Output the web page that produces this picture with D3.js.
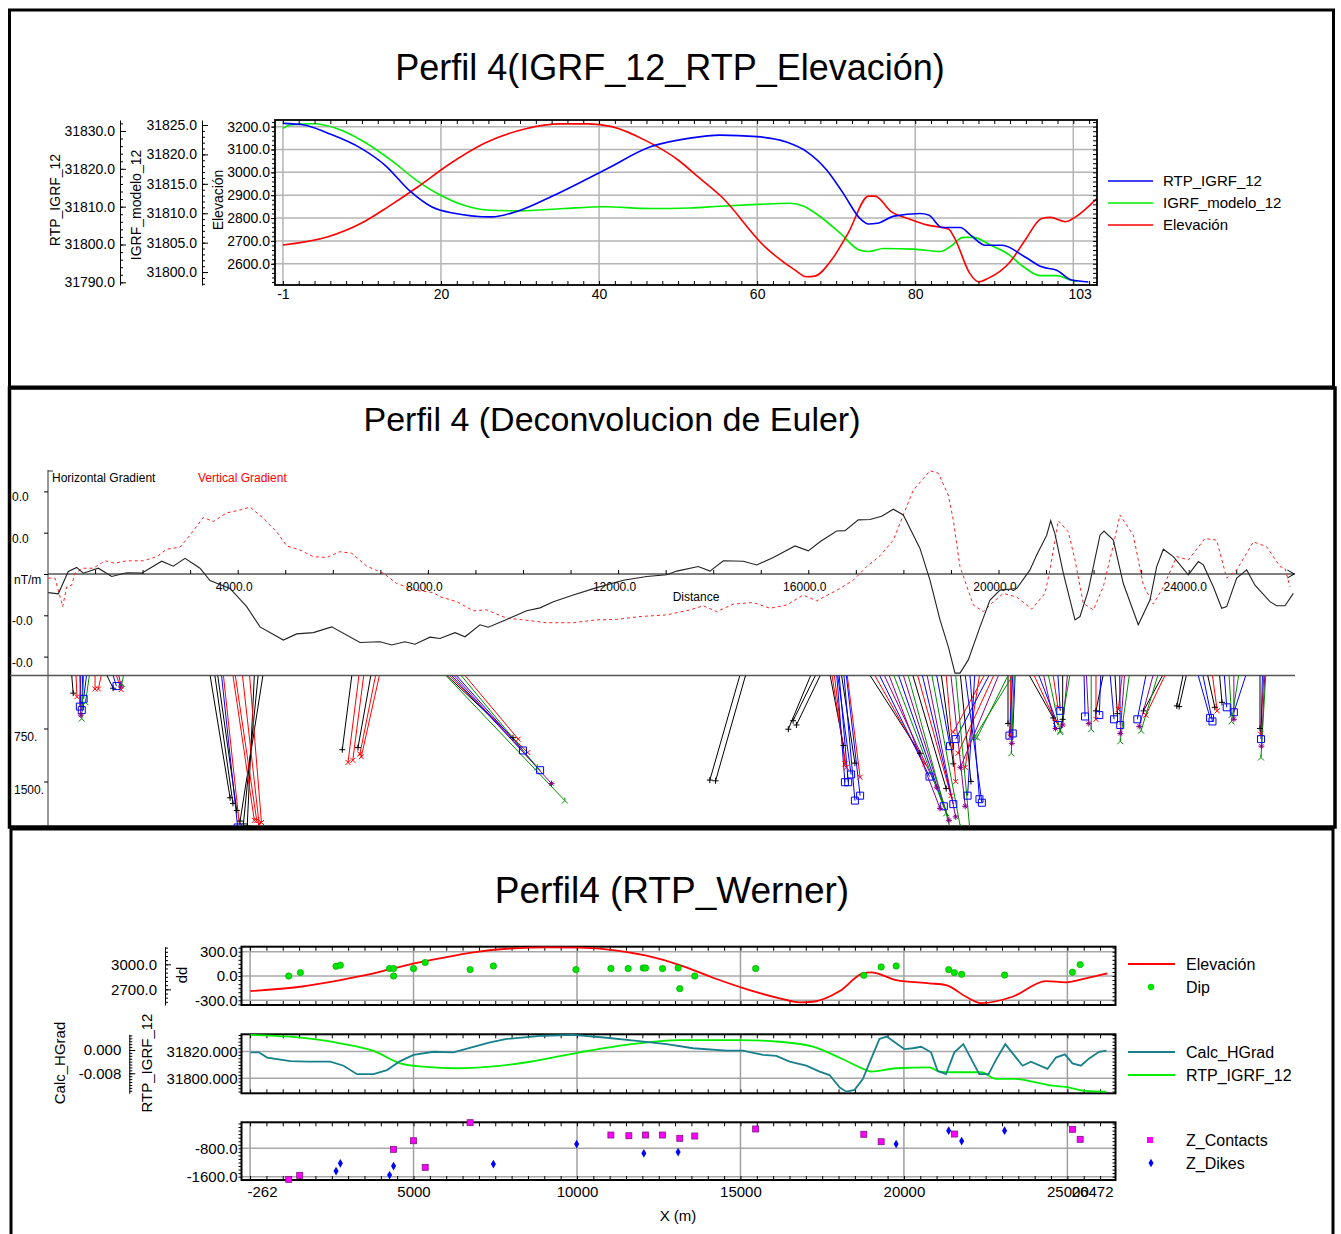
<!DOCTYPE html>
<html>
<head>
<meta charset="utf-8">
<script src="https://cdn.jsdelivr.net/npm/d3@7"></script>
<style>
  body { margin: 0; background: #fff; }
  svg { display: block; }
  text { font-family: "Liberation Sans", Arial, sans-serif; }
</style>
</head>
<body>
<svg id="chart" width="1341" height="1234"></svg>
<script>
const FONT = '"Liberation Sans", Arial, sans-serif';

// ---------- Panel 1: Perfil 4 (IGRF_12_RTP_Elevación), x = fiducial
const p1TickPos = [0, 20, 40, 60, 80, 100.8];
const p1TickLabels = ["-1", "20", "40", "60", "80", "103"];
const rtpFid = [0, 2.7, 5.7, 9.9, 12.9, 16.2, 18.8, 21.3, 26.4, 29.7, 34.4, 40.9, 46.5, 51.5, 55.3, 60, 63.8, 66.3, 68.8, 70.9, 73, 74.1, 75.2, 77.3, 80.6, 81.7, 83.4, 85.7, 87, 88.9, 91, 93.9, 96, 97.9, 99.8, 101.9];
const rtpVal = [31832.0, 31831.6, 31829.4, 31825.4, 31821.0, 31813.9, 31810.0, 31808.4, 31807.3, 31808.8, 31813.1, 31819.9, 31825.8, 31828.1, 31828.9, 31828.5, 31827.0, 31824.5, 31819.7, 31813.5, 31806.9, 31805.4, 31805.6, 31807.5, 31808.2, 31807.8, 31804.5, 31804.5, 31802.5, 31799.8, 31799.8, 31796.7, 31794.1, 31793.2, 31790.6, 31790.1];
const igrfFid = [0, 0.9, 3.9, 6.8, 10.2, 13.6, 16.9, 19.9, 22.8, 26.2, 30, 35.5, 40.6, 46.5, 51.5, 55.3, 60, 64.2, 65.9, 68, 70.5, 73, 74.1, 76, 79.8, 83.2, 84.4, 86.1, 87.4, 89.5, 91.6, 93.7, 95.8, 97.9, 99.8, 100.5];
const igrfVal = [31824.4, 31825.0, 31825.2, 31824.4, 31822.2, 31819.1, 31815.6, 31813.1, 31811.4, 31810.5, 31810.4, 31810.8, 31811.1, 31810.8, 31810.9, 31811.2, 31811.5, 31811.7, 31811.2, 31809.4, 31806.6, 31803.7, 31803.5, 31804.0, 31803.9, 31803.5, 31804.3, 31805.9, 31805.9, 31804.6, 31803.2, 31800.9, 31799.4, 31799.4, 31798.6, 31798.4];
const elevFid = [0, 5.7, 9.9, 13.3, 17.1, 20.9, 25.5, 30.6, 35.2, 38.6, 41.6, 45.8, 50, 52.5, 55.5, 61, 64.8, 66.2, 67.3, 69.4, 71.5, 74.1, 74.9, 77, 79.1, 81.6, 84.2, 85, 86.9, 88, 89.2, 92, 93.9, 96, 97.1, 99, 100.2, 103];
const elevVal = [2682, 2718, 2777, 2849, 2937, 3032, 3127, 3190, 3212, 3212, 3200, 3141, 3054, 2981, 2893, 2674, 2572, 2543, 2546, 2616, 2733, 2896, 2896, 2827, 2798, 2769, 2752, 2711, 2558, 2521, 2536, 2608, 2703, 2798, 2803, 2784, 2803, 2886];
const p1Legend = ["RTP_IGRF_12", "IGRF_modelo_12", "Elevación"];
const p1Colors = ["#0000ff", "#00ee00", "#ff0000"];

// ---------- Panel 2: Euler deconvolution (gradients in 1e-3 nT/m)
const hgDist = [17, 227, 437, 614, 753, 1068, 1350, 1665, 1981, 2402, 2646, 2892, 3207, 3417, 3838, 4189, 4469, 4959, 5241, 5590, 5977, 6572, 6993, 7239, 7518, 7729, 8044, 8254, 8570, 8780, 9096, 9270, 9657, 10078, 10358, 10638, 11058, 11550, 12110, 12602, 13022, 13233, 13687, 13933, 14213, 14634, 14915, 15264, 15720, 16000, 16246, 16597, 16772, 17052, 17298, 17544, 17788, 17998, 18349, 18559, 18770, 18944, 19085, 19190, 19365, 19611, 19821, 20032, 20383, 20662, 20803, 21014, 21098, 21188, 21363, 21609, 21714, 21889, 22135, 22219, 22415, 22625, 22940, 23186, 23327, 23467, 23677, 23992, 24203, 24308, 24518, 24694, 24799, 25010, 25220, 25394, 25710, 25850, 26025, 26200];
const hgVal = [-4.5, -4.8, 0.6, 1.6, 0.2, 1.4, -0.6, 0.3, 0.2, 3.1, 1.9, 3.8, 1.4, -1.6, -3.5, -7.9, -12.8, -16.0, -14.5, -14.2, -12.8, -16.6, -16.4, -17.2, -16.4, -17.0, -15.3, -15.6, -14.2, -15.2, -12.3, -12.9, -11.0, -8.9, -8.2, -6.7, -5.1, -3.3, -1.5, -0.6, -0.2, 0.7, 1.8, 0.7, 3.2, 3.1, 2.2, 4.0, 6.8, 5.6, 7.8, 10.4, 10.5, 13.1, 13.2, 14.0, 15.7, 14.3, 6.2, -1.5, -11.1, -17.6, -24.0, -24.0, -20.8, -12.8, -6.3, -3.9, -3.5, 1.0, 4.6, 9.4, 12.9, 9.7, 0.2, -11.1, -10.3, -3.9, 9.4, 10.4, 8.2, -2.3, -12.3, -6.3, 1.8, 6.0, 4.2, -0.2, 3.0, 2.2, -3.1, -8.3, -7.9, -1.0, 1.0, -2.7, -6.7, -7.7, -7.7, -4.7];
const vgDist = [17, 158, 320, 404, 509, 578, 753, 963, 1209, 1420, 1665, 2015, 2297, 2507, 2787, 2997, 3277, 3487, 3769, 4049, 4259, 4538, 4820, 5031, 5310, 5590, 5872, 6151, 6397, 6713, 7062, 7344, 7764, 8114, 8254, 8606, 8955, 9237, 9657, 10006, 10498, 11058, 11550, 11971, 12461, 13022, 13512, 13792, 14074, 14423, 14844, 15195, 15546, 15895, 16176, 16667, 16946, 17228, 17508, 17788, 17998, 18208, 18559, 18734, 18944, 19049, 19190, 19470, 19680, 19856, 20101, 20383, 20698, 20977, 21083, 21257, 21468, 21609, 21783, 21994, 22204, 22415, 22555, 22835, 23046, 23256, 23467, 23747, 23992, 24342, 24588, 24799, 25010, 25360, 25640, 25920, 26025, 26130];
const vgVal = [-1.0, -1.0, -7.9, -3.1, -2.7, 0.2, 1.4, 1.4, 3.2, 2.6, 3.2, 3.2, 4.2, 6.0, 6.5, 9.4, 13.7, 12.7, 14.8, 15.5, 16.2, 13.5, 10.2, 6.8, 5.8, 4.2, 4.0, 5.4, 5.0, 1.9, 0.2, -2.3, -4.0, -4.5, -5.5, -6.7, -8.9, -8.7, -10.7, -11.1, -11.8, -11.8, -11.1, -11.0, -10.3, -9.9, -8.7, -7.7, -9.1, -7.3, -6.9, -8.3, -7.5, -5.1, -6.5, -3.5, -1.5, 1.8, 4.4, 8.2, 14.3, 20.3, 25.0, 24.4, 19.1, 13.1, 1.8, -7.5, -9.1, -7.1, -4.7, -5.6, -8.5, -4.7, 1.0, 12.9, 10.2, 3.4, -7.1, -8.7, -3.1, 7.0, 14.3, 9.4, -2.7, -7.3, -3.1, 4.2, 3.4, 8.6, 8.2, -1.0, 1.0, 7.8, 6.6, 1.8, 1.4, -3.1];
const gradTicks = [20, 10, 0, -10, -20];
const depthTicks = [750, 1500];
const distLabels = [4000, 8000, 12000, 16000, 20000, 24000];
// Euler solutions: [x at surface, x at solution, depth, type]
const eulerSol = [
  [510, 540, 250, 0], [600, 620, 300, 1], [700, 680, 440, 2], [740, 720, 490, 2], [760, 720, 610, 3],
  [680, 700, 560, 4], [1000, 1000, 190, 1], [1130, 1070, 190, 1], [880, 800, 380, 3], [820, 760, 330, 2],
  [1250, 1380, 180, 0], [1380, 1450, 150, 2], [1500, 1550, 150, 4], [1600, 1560, 120, 3], [1450, 1550, 200, 1],
  [3420, 3840, 1730, 0], [3520, 3900, 1810, 0], [3580, 3980, 1910, 0], [3660, 4000, 2150, 2], [3700, 4050, 2200, 1],
  [3900, 4350, 2050, 1], [3950, 4400, 2050, 1], [4100, 4450, 2100, 1], [4250, 4500, 2080, 1],
  [4530, 4050, 2060, 0], [4430, 4120, 2100, 0], [4350, 4200, 2130, 0],
  [6400, 6200, 1050, 0], [6550, 6320, 1230, 1], [6650, 6420, 1200, 1], [6800, 6530, 1020, 0], [6900, 6570, 1110, 1], [6980, 6600, 1150, 1],
  [8400, 9790, 880, 0], [8450, 10100, 1090, 1], [8500, 10360, 1340, 2], [8550, 10600, 1530, 4], [8380, 10880, 1770, 3],
  [8700, 10300, 1300, 3], [8600, 10000, 1060, 2], [8780, 9900, 900, 1],
  [14560, 13930, 1480, 0], [14680, 14050, 1490, 0],
  [16050, 15580, 760, 0], [16150, 15680, 640, 0], [16250, 15750, 700, 0],
  [16460, 16740, 990, 0], [16550, 16770, 1250, 1], [16600, 16770, 1510, 2], [16650, 16840, 1510, 2], [16700, 16980, 1240, 0],
  [16750, 16980, 1770, 2], [16800, 17090, 1700, 2], [16820, 17090, 1440, 1], [16500, 16800, 1300, 1], [16620, 16900, 1400, 2],
  [17300, 18350, 1100, 0], [17400, 18450, 1250, 1], [17500, 18550, 1430, 2], [17600, 18700, 1580, 4], [17700, 18770, 1880, 4],
  [17800, 18900, 1950, 3], [17900, 18850, 1850, 2], [18000, 18960, 2050, 4], [18100, 19000, 2200, 3], [18200, 18900, 1600, 0],
  [18300, 19000, 1700, 1], [18400, 19050, 1820, 2], [18500, 19100, 2000, 4], [18600, 19200, 2150, 3], [18700, 18980, 1000, 2],
  [18800, 19050, 1250, 0], [18900, 19100, 1500, 1], [19000, 19300, 1850, 4], [19100, 19400, 2200, 3],
  [19900, 19150, 1100, 1], [19800, 19100, 900, 2], [19700, 19050, 800, 1], [20000, 19200, 1300, 4], [20300, 19500, 870, 3],
  [20200, 19550, 880, 3], [19600, 19300, 1300, 1], [19500, 19350, 1700, 2], [19400, 19600, 1750, 2], [19300, 19650, 1800, 2],
  [19200, 19420, 1500, 0],
  [20200, 20200, 680, 0], [20250, 20250, 870, 1], [20300, 20230, 850, 2], [20350, 20300, 820, 2], [20280, 20280, 960, 4], [20330, 20270, 1100, 3],
  [20650, 21150, 600, 0], [20750, 21200, 650, 1], [20850, 21250, 700, 2], [20950, 21200, 750, 4], [21050, 21300, 800, 3],
  [21150, 21250, 450, 1], [21250, 21300, 500, 2], [21350, 21350, 620, 0], [21450, 21350, 700, 4], [21500, 21300, 780, 3],
  [21800, 21820, 580, 2], [21850, 21900, 680, 4], [21950, 21950, 760, 3], [22050, 22050, 620, 1], [22150, 22120, 560, 2], [22200, 22050, 500, 0],
  [22350, 22430, 620, 2], [22450, 22500, 540, 0], [22550, 22560, 700, 2], [22650, 22560, 820, 4], [22750, 22560, 930, 3], [22600, 22520, 480, 1],
  [23100, 22920, 620, 2], [23250, 22960, 720, 4], [23350, 23000, 780, 3], [23450, 23050, 500, 0], [23500, 23100, 560, 1],
  [23880, 23750, 430, 0], [23950, 23800, 440, 0],
  [24200, 24450, 600, 2], [24300, 24500, 650, 2], [24400, 24550, 450, 0], [24500, 24600, 500, 1], [24650, 24700, 380, 0],
  [24750, 24800, 450, 2], [24850, 24900, 560, 3], [24950, 24950, 620, 4], [25050, 24900, 650, 3], [25200, 24950, 520, 2],
  [25500, 25500, 750, 0], [25550, 25520, 900, 2], [25600, 25530, 1000, 4], [25620, 25520, 1160, 3], [25580, 25510, 830, 1]
];
const eulerColors = ["#000000", "#ff0000", "#0000ff", "#008c00", "#8b008b"];
const eulerShapes = [
  "M-3,0H3M0,-3V3",
  "M-2.5,-2.5L2.5,2.5M-2.5,2.5L2.5,-2.5",
  "M-3.5,-3.5H3.5V3.5H-3.5Z",
  "M0,-3V0L-3,3M0,0L3,3",
  "M-3,0H3M0,-3V3M-2,-2L2,2M-2,2L2,-2"
];

// ---------- Panel 3: Perfil4 (RTP_Werner), x = X (m)
const wElevX = [12, 1540, 2761, 3778, 4798, 5815, 6832, 8053, 9073, 10090, 11107, 12127, 13144, 14161, 15181, 16198, 16809, 17215, 18038, 18742, 18999, 19762, 20780, 21289, 21900, 22358, 23323, 24343, 24954, 25564, 26224];
const wElevY = [2679, 2731, 2811, 2891, 2991, 3072, 3144, 3192, 3204, 3199, 3171, 3103, 2991, 2839, 2703, 2592, 2544, 2551, 2679, 2891, 2904, 2811, 2772, 2751, 2611, 2535, 2611, 2799, 2784, 2832, 2891];
const dipX = [1182, 1540, 2630, 2761, 4267, 4389, 4389, 5000, 5357, 6731, 7443, 9968, 11037, 11566, 12024, 12097, 12616, 13093, 13144, 13602, 15465, 18773, 19304, 19762, 21369, 21543, 21766, 23079, 25156, 25391];
const dipY = [0, 42, 120, 133, 92, 92, 0, 92, 166, 79, 124, 79, 92, 92, 99, 99, 92, 99, -156, 0, 92, 9, 112, 124, 79, 42, 21, 12, 46, 141];
const hgradX = [12, 266, 522, 1234, 1744, 2455, 2862, 3271, 3778, 4187, 4593, 5000, 5610, 6221, 6832, 7342, 7852, 8970, 9886, 10906, 11822, 12738, 13551, 14571, 15078, 15689, 16098, 16504, 17014, 17420, 17725, 18038, 18236, 18491, 18742, 19048, 19252, 19475, 19762, 20016, 20269, 20526, 20831, 21032, 21289, 21543, 21818, 22306, 22590, 22816, 23100, 23629, 23885, 24392, 24649, 24924, 25156, 25413, 25666, 25972, 26195];
const hgradY = [-0.0008, -0.0008, -0.0026, -0.0038, -0.0040, -0.0040, -0.0054, -0.0083, -0.0083, -0.0069, -0.0038, -0.0017, -0.0006, -0.0008, 0.0011, 0.0026, 0.0038, 0.0049, 0.0052, 0.0042, 0.0031, 0.0020, 0.0006, -0.0002, -0.0002, -0.0017, -0.0020, -0.0040, -0.0054, -0.0074, -0.0086, -0.0129, -0.0143, -0.0137, -0.0100, -0.0017, 0.0038, 0.0046, 0.0023, 0.0003, 0.0006, 0.0011, -0.0008, -0.0072, -0.0083, -0.0008, 0.0020, -0.0083, -0.0083, -0.0034, 0.0020, -0.0054, -0.0040, -0.0065, -0.0026, -0.0015, -0.0046, -0.0054, -0.0029, -0.0006, -0.0002];
const wRtpX = [12, 1234, 2761, 3778, 4593, 5305, 6325, 7342, 8563, 10090, 11617, 13144, 14977, 16198, 17215, 18038, 18846, 18999, 19762, 20780, 21085, 21491, 22358, 22816, 23427, 23934, 24545, 24954, 25564, 26195];
const wRtpY = [31832.5, 31831.2, 31826.2, 31820.5, 31811.2, 31808.7, 31807.5, 31808.7, 31812.4, 31819.5, 31825.5, 31828.7, 31828.7, 31827.4, 31823.7, 31815.4, 31806.2, 31805.0, 31807.5, 31808.2, 31805.0, 31804.5, 31804.5, 31799.5, 31799.5, 31797.4, 31794.4, 31793.5, 31790.5, 31790.0];
const contactX = [1182, 1518, 4389, 5000, 5357, 6731, 11037, 11587, 12097, 12616, 13144, 13602, 15465, 18773, 19304, 21543, 25156, 25391];
const contactY = [-1676, -1563, -829, -586, -1337, -77, -425, -445, -425, -425, -518, -453, -255, -405, -614, -397, -264, -546];
const dikeX = [2630, 2761, 4267, 4389, 7443, 9990, 12045, 13093, 19762, 21369, 21766, 23079];
const dikeY = [-1442, -1224, -1555, -1301, -1244, -679, -942, -905, -679, -303, -594, -303];
const wTicks = [5000, 10000, 15000, 20000, 25000];
const wRange = [-262, 26472];

const svg = d3.select("#chart");

// number formats with a plain hyphen as minus sign
const loc = d3.formatLocale({ decimal: ".", thousands: "", grouping: [3], currency: ["", ""], minus: "-" });
const f1 = loc.format(".1f"), f3 = loc.format(".3f"), fInt = loc.format("d");
// keeps the sign of values that round to zero ("-0.0" as in the original)
const f1s = v => (v < 0 ? "-" : "") + f1(Math.abs(v));

// helper: put an axis somewhere and style it
function ax(parent, axis, tx, ty, fs, keepDomain) {
  const g = parent.append("g").attr("transform", `translate(${tx},${ty})`).call(axis);
  g.attr("font-family", FONT).attr("font-size", fs || 14);
  g.selectAll("line").attr("stroke", "#000");
  g.selectAll("text").attr("fill", "#000");
  if (!keepDomain) g.select(".domain").remove();
  else g.select(".domain").attr("stroke", "#000");
  return g;
}

// ---------------- panel frames
svg.append("rect").attr("x", 9.5).attr("y", 10).attr("width", 1324).attr("height", 377)
  .attr("fill", "none").attr("stroke", "#000").attr("stroke-width", 3);
svg.append("rect").attr("x", 9.5).attr("y", 388).attr("width", 1325.5).attr("height", 439)
  .attr("fill", "none").attr("stroke", "#000").attr("stroke-width", 3.5);
svg.append("rect").attr("x", 11).attr("y", 829).attr("width", 1322).attr("height", 420)
  .attr("fill", "none").attr("stroke", "#000").attr("stroke-width", 3);

// ================= PANEL 1
const p1 = svg.append("g");
p1.append("text").attr("x", 670).attr("y", 80).attr("text-anchor", "middle")
  .attr("font-size", 36).text("Perfil 4(IGRF_12_RTP_Elevación)");

const x1 = d3.scaleLinear().domain([-1, 103]).range([275, 1097]);
const yElev1 = d3.scaleLinear().domain([2507, 3229]).range([285, 120]);
const yIgrf1 = d3.scaleLinear().domain([31797.8, 31825.85]).range([285, 120]);
const yRtp1 = d3.scaleLinear().domain([31789.3, 31832.9]).range([285, 120]);

p1.append("g").selectAll("line").data(d3.range(2600, 3201, 100)).join("line")
  .attr("x1", 275).attr("x2", 1097).attr("y1", d => yElev1(d)).attr("y2", d => yElev1(d))
  .attr("stroke", "#b4b4b4").attr("stroke-width", 1.5);
p1.append("g").selectAll("line").data(d3.range(0, 101, 20)).join("line")
  .attr("x1", d => x1(d)).attr("x2", d => x1(d)).attr("y1", 120).attr("y2", 285)
  .attr("stroke", "#b4b4b4").attr("stroke-width", 1.5);

p1.append("clipPath").attr("id", "clip1").append("rect")
  .attr("x", 275).attr("y", 120).attr("width", 822).attr("height", 165);
const c1 = p1.append("g").attr("clip-path", "url(#clip1)");
const line1 = (ys) => d3.line().x(d => x1(d[0])).y(d => ys(d[1])).curve(d3.curveMonotoneX);
c1.append("path").datum(d3.zip(igrfFid, igrfVal)).attr("d", line1(yIgrf1))
  .attr("fill", "none").attr("stroke", p1Colors[1]).attr("stroke-width", 1.6);
c1.append("path").datum(d3.zip(elevFid, elevVal)).attr("d", line1(yElev1))
  .attr("fill", "none").attr("stroke", p1Colors[2]).attr("stroke-width", 1.6);
c1.append("path").datum(d3.zip(rtpFid, rtpVal)).attr("d", line1(yRtp1))
  .attr("fill", "none").attr("stroke", p1Colors[0]).attr("stroke-width", 1.6);

// frame ticks
ax(p1, d3.axisTop(x1).tickValues(d3.range(0, 103, 2)).tickSize(-4).tickFormat(""), 0, 120);
ax(p1, d3.axisBottom(x1).tickValues(d3.range(0, 103, 2)).tickSize(-4).tickFormat(""), 0, 285);
ax(p1, d3.axisRight(yElev1).tickValues(d3.range(2520, 3221, 20)).tickSize(-4).tickFormat(""), 1097, 0);
ax(p1, d3.axisLeft(yElev1).tickValues(d3.range(2520, 3221, 20)).tickSize(3).tickFormat(""), 275, 0);
ax(p1, d3.axisLeft(yElev1).tickValues(d3.range(2600, 3201, 100)).tickSize(4).tickPadding(1)
  .tickFormat(f1), 275, 0, 14);
ax(p1, d3.axisBottom(x1).tickValues(p1TickPos).tickSize(0).tickPadding(3)
  .tickFormat((d, i) => p1TickLabels[i]), 0, 286, 14);
p1.append("rect").attr("x", 275).attr("y", 120).attr("width", 822).attr("height", 165)
  .attr("fill", "none").attr("stroke", "#000").attr("stroke-width", 1.8);

// IGRF_modelo_12 axis
ax(p1, d3.axisRight(yIgrf1).tickValues(d3.range(31798, 31826, 1)).tickSize(3).tickSizeOuter(0).tickFormat(""), 202, 0, 14, true);
ax(p1, d3.axisRight(yIgrf1).tickValues(d3.range(31800, 31826, 5)).tickSize(6).tickFormat(""), 202, 0);
ax(p1, d3.axisLeft(yIgrf1).tickValues(d3.range(31800, 31826, 5)).tickSize(0).tickPadding(5)
  .tickFormat(f1), 202, 0, 14);
// RTP_IGRF_12 axis
ax(p1, d3.axisRight(yRtp1).tickValues(d3.range(31790, 31833, 2)).tickSize(3).tickSizeOuter(0).tickFormat(""), 120, 0, 14, true);
ax(p1, d3.axisRight(yRtp1).tickValues(d3.range(31790, 31831, 10)).tickSize(6).tickFormat(""), 120, 0);
ax(p1, d3.axisLeft(yRtp1).tickValues(d3.range(31790, 31831, 10)).tickSize(0).tickPadding(5)
  .tickFormat(f1), 120, 0, 14);

[["RTP_IGRF_12", 55, 200], ["IGRF_modelo_12", 136, 205], ["Elevación", 218, 200]].forEach(([t, x, y]) => {
  p1.append("text").attr("transform", `translate(${x + 5},${y}) rotate(-90)`)
    .attr("text-anchor", "middle").attr("font-size", 14).text(t);
});

// legend
p1Legend.forEach((t, i) => {
  const y = 181 + i * 22;
  p1.append("line").attr("x1", 1108).attr("x2", 1153).attr("y1", y).attr("y2", y)
    .attr("stroke", p1Colors[i]).attr("stroke-width", 1.6);
  p1.append("text").attr("x", 1163).attr("y", y + 5).attr("font-size", 15).text(t);
});

// ================= PANEL 2
const p2 = svg.append("g");
p2.append("text").attr("x", 612).attr("y", 431).attr("text-anchor", "middle")
  .attr("font-size", 34).text("Perfil 4 (Deconvolucion de Euler)");

const xM = d3.scaleLinear().domain([0, 26200]).range([47.5, 1293.3]);
const yM = d3.scaleLinear().domain([-25, 25]).range([677.25, 470.75]);
const dM = d3.scaleLinear().domain([0, 2200]).range([675.5, 831]);

// axes lines
p2.append("line").attr("x1", 48).attr("x2", 48).attr("y1", 470).attr("y2", 826).attr("stroke", "#333");
p2.append("line").attr("x1", 48).attr("x2", 53).attr("y1", 471).attr("y2", 471).attr("stroke", "#333");
p2.append("line").attr("x1", 10).attr("x2", 1295).attr("y1", dM(0)).attr("y2", dM(0))
  .attr("stroke", "#555").attr("stroke-width", 1.5);
p2.append("line").attr("x1", 48).attr("x2", 1295).attr("y1", yM(0)).attr("y2", yM(0)).attr("stroke", "#000");
p2.append("path").attr("d", `M${xM(26200) - 6},${yM(0) - 4}L${xM(26200) + 1},${yM(0)}L${xM(26200) - 6},${yM(0) + 4}`)
  .attr("fill", "none").attr("stroke", "#000");

ax(p2, d3.axisTop(xM).tickValues(d3.range(1000, 26000, 1000)).tickSize(4).tickFormat(""), 0, yM(0));
ax(p2, d3.axisBottom(xM).tickValues(distLabels).tickSize(0).tickPadding(8)
  .tickFormat(f1), -4, yM(0), 12);
p2.append("text").attr("x", 696).attr("y", 601).attr("text-anchor", "middle").attr("font-size", 12).text("Distance");

ax(p2, d3.axisLeft(yM).tickValues(gradTicks).tickSize(4).tickFormat(""), 48, 0);
p2.append("g").selectAll("text").data(gradTicks).join("text")
  .attr("x", d => d === 0 ? 14 : 12).attr("y", d => yM(d) + 10)
  .attr("font-size", 12)
  .text(d => d === 0 ? "nT/m" : f1s(d / 1000));
ax(p2, d3.axisLeft(dM).tickValues(depthTicks).tickSize(4).tickFormat(""), 48, 0);
p2.append("g").selectAll("text").data(depthTicks).join("text")
  .attr("x", 14).attr("y", d => dM(d) + 12).attr("font-size", 12)
  .text(d => d + ".");

p2.append("text").attr("x", 52).attr("y", 482).attr("font-size", 12).text("Horizontal Gradient");
p2.append("text").attr("x", 198).attr("y", 482).attr("font-size", 12).attr("fill", "#ff0000").text("Vertical Gradient");

const lineM = d3.line().x(d => xM(d[0])).y(d => yM(d[1]));
p2.append("path").datum(d3.zip(vgDist, vgVal)).attr("d", lineM)
  .attr("fill", "none").attr("stroke", "#ff2020").attr("stroke-width", 1).attr("stroke-dasharray", "3,3");
p2.append("path").datum(d3.zip(hgDist, hgVal)).attr("d", lineM)
  .attr("fill", "none").attr("stroke", "#222").attr("stroke-width", 1.1);

// Euler solutions
p2.append("clipPath").attr("id", "clip2").append("rect")
  .attr("x", 12).attr("y", dM(0)).attr("width", 1290).attr("height", 826 - dM(0));
const eg = p2.append("g").attr("clip-path", "url(#clip2)");
[0, 1, 2, 4, 3].forEach(t => {
  const sub = eulerSol.filter(s => s[3] === t);
  eg.append("g").selectAll("line").data(sub).join("line")
    .attr("x1", d => xM(d[0])).attr("y1", dM(0))
    .attr("x2", d => xM(d[1])).attr("y2", d => dM(d[2]))
    .attr("stroke", eulerColors[t]).attr("stroke-width", 1);
});
[0, 1, 2, 4, 3].forEach(t => {
  const sub = eulerSol.filter(s => s[3] === t);
  eg.append("g").selectAll("path").data(sub).join("path")
    .attr("transform", d => `translate(${xM(d[1])},${dM(d[2])})`)
    .attr("d", eulerShapes[t]).attr("fill", "none")
    .attr("stroke", eulerColors[t]).attr("stroke-width", 1);
});

// ================= PANEL 3
const p3 = svg.append("g");
p3.append("text").attr("x", 672).attr("y", 903).attr("text-anchor", "middle")
  .attr("font-size", 37).text("Perfil4 (RTP_Werner)");

const xB = d3.scaleLinear().domain(wRange).range([241.5, 1115.5]);
const L = xB.range()[0], R = xB.range()[1];
const xGrid = [0].concat(wTicks);
const xMinor = d3.range(0, 26001, 500);

function subFrame(top, bot, yS, gridVals, minorVals, fmt) {
  const g = p3.append("g");
  g.append("g").selectAll("line").data(gridVals).join("line")
    .attr("x1", L).attr("x2", R).attr("y1", d => yS(d)).attr("y2", d => yS(d))
    .attr("stroke", "#a8a8a8").attr("stroke-width", 1.5);
  g.append("g").selectAll("line").data(xGrid).join("line")
    .attr("x1", d => xB(d)).attr("x2", d => xB(d)).attr("y1", top).attr("y2", bot)
    .attr("stroke", "#a0a0a0").attr("stroke-width", 1.5);
  ax(g, d3.axisTop(xB).tickValues(xMinor).tickSize(-4).tickFormat(""), 0, top);
  ax(g, d3.axisBottom(xB).tickValues(xMinor).tickSize(-4).tickFormat(""), 0, bot);
  ax(g, d3.axisRight(yS).tickValues(minorVals).tickSize(-3).tickFormat(""), R, 0);
  ax(g, d3.axisLeft(yS).tickValues(minorVals).tickSize(3).tickFormat(""), L, 0);
  ax(g, d3.axisLeft(yS).tickValues(gridVals).tickSize(0).tickPadding(4).tickFormat(fmt), L, 0, 15);
  g.append("rect").attr("x", L).attr("y", top).attr("width", R - L).attr("height", bot - top)
    .attr("fill", "none").attr("stroke", "#000").attr("stroke-width", 2);
  return g;
}

// --- subplot 1: Elevación + Dip
const yDd = d3.scaleLinear().domain([-358, 362]).range([1005, 946.7]);
const yElevB = d3.scaleLinear().domain([2512, 3211]).range([1005, 946.7]);
subFrame(946.7, 1005, yDd, [300, 0, -300], d3.range(-350, 351, 50), f1);
p3.append("path").datum(d3.zip(wElevX, wElevY))
  .attr("d", d3.line().x(d => xB(d[0])).y(d => yElevB(d[1])).curve(d3.curveMonotoneX))
  .attr("fill", "none").attr("stroke", "#ff0000").attr("stroke-width", 1.8);
p3.append("g").selectAll("circle").data(d3.zip(dipX, dipY)).join("circle")
  .attr("cx", d => xB(d[0])).attr("cy", d => yDd(d[1])).attr("r", 3.2)
  .attr("fill", "#00e600").attr("stroke", "#00a000").attr("stroke-width", 0.6);
ax(p3, d3.axisRight(yElevB).tickValues(d3.range(2550, 3201, 50)).tickSize(3).tickSizeOuter(0).tickFormat(""), 165, 0, 15, true);
ax(p3, d3.axisRight(yElevB).tickValues([2700, 3000]).tickSize(6).tickFormat(""), 165, 0);
ax(p3, d3.axisLeft(yElevB).tickValues([2700, 3000]).tickSize(0).tickPadding(8).tickFormat(f1), 165, 0, 15);
p3.append("text").attr("transform", "translate(187,975) rotate(-90)").attr("text-anchor", "middle")
  .attr("font-size", 15).text("dd");

// --- subplot 2: Calc_HGrad + RTP_IGRF_12
const yRtpB = d3.scaleLinear().domain([31788.7, 31833]).range([1093.3, 1034.3]);
const yHg = d3.scaleLinear().domain([-0.01487, 0.00539]).range([1093.3, 1034.3]);
subFrame(1034.3, 1093.3, yRtpB, [31820, 31800], d3.range(31790, 31833, 2.5), f3);
p3.append("path").datum(d3.zip(wRtpX, wRtpY))
  .attr("d", d3.line().x(d => xB(d[0])).y(d => yRtpB(d[1])).curve(d3.curveMonotoneX))
  .attr("fill", "none").attr("stroke", "#00ee00").attr("stroke-width", 1.8);
p3.append("path").datum(d3.zip(hgradX, hgradY))
  .attr("d", d3.line().x(d => xB(d[0])).y(d => yHg(d[1])))
  .attr("fill", "none").attr("stroke", "#17808a").attr("stroke-width", 1.8);
ax(p3, d3.axisRight(yHg).tickValues(d3.range(-0.014, 0.0051, 0.001)).tickSize(3).tickSizeOuter(0).tickFormat(""), 129.3, 0, 15, true);
ax(p3, d3.axisRight(yHg).tickValues([0, -0.008]).tickSize(6).tickFormat(""), 129.3, 0);
ax(p3, d3.axisLeft(yHg).tickValues([0, -0.008]).tickSize(0).tickPadding(8).tickFormat(f3), 129.3, 0, 15);
p3.append("text").attr("transform", "translate(65,1063) rotate(-90)").attr("text-anchor", "middle")
  .attr("font-size", 15).text("Calc_HGrad");
p3.append("text").attr("transform", "translate(152,1063) rotate(-90)").attr("text-anchor", "middle")
  .attr("font-size", 15).text("RTP_IGRF_12");

// --- subplot 3: Z_Contacts + Z_Dikes
const yZ = d3.scaleLinear().domain([-1694, -66]).range([1180, 1122.3]);
subFrame(1122.3, 1180, yZ, [-800, -1600], d3.range(-1600, -99, 100), f1);
p3.append("g").selectAll("rect").data(d3.zip(contactX, contactY)).join("rect")
  .attr("x", d => xB(d[0]) - 3).attr("y", d => yZ(d[1]) - 3).attr("width", 6).attr("height", 6)
  .attr("fill", "#ff00ff").attr("stroke", "#7a1a7a").attr("stroke-width", 0.8);
p3.append("g").selectAll("path").data(d3.zip(dikeX, dikeY)).join("path")
  .attr("transform", d => `translate(${xB(d[0])},${yZ(d[1])})`)
  .attr("d", d3.symbol(d3.symbolDiamond, 22)).attr("fill", "#0000ff");

// x labels (the last two overlap in the original as well)
ax(p3, d3.axisBottom(xB).tickValues(wTicks).tickSize(0).tickPadding(5).tickFormat(fInt), 0, 1181, 15);
p3.append("text").attr("x", L + 6).attr("y", 1197).attr("font-size", 15).text(fInt(wRange[0]));
p3.append("text").attr("x", R - 2).attr("y", 1197).attr("text-anchor", "end").attr("font-size", 15).text(fInt(wRange[1]));
p3.append("text").attr("x", 678).attr("y", 1221).attr("text-anchor", "middle").attr("font-size", 15).text("X (m)");

// legends
const lg = p3.append("g").attr("font-size", 16);
lg.append("line").attr("x1", 1128).attr("x2", 1175).attr("y1", 964).attr("y2", 964).attr("stroke", "#ff0000").attr("stroke-width", 1.8);
lg.append("text").attr("x", 1186).attr("y", 970).text("Elevación");
lg.append("circle").attr("cx", 1151).attr("cy", 987).attr("r", 3.2).attr("fill", "#00e600");
lg.append("text").attr("x", 1186).attr("y", 993).text("Dip");
lg.append("line").attr("x1", 1128).attr("x2", 1175).attr("y1", 1052).attr("y2", 1052).attr("stroke", "#17808a").attr("stroke-width", 1.8);
lg.append("text").attr("x", 1186).attr("y", 1058).text("Calc_HGrad");
lg.append("line").attr("x1", 1128).attr("x2", 1175).attr("y1", 1075).attr("y2", 1075).attr("stroke", "#00ee00").attr("stroke-width", 1.8);
lg.append("text").attr("x", 1186).attr("y", 1081).text("RTP_IGRF_12");
lg.append("rect").attr("x", 1147).attr("y", 1137).attr("width", 6).attr("height", 6).attr("fill", "#ff00ff");
lg.append("text").attr("x", 1186).attr("y", 1146).text("Z_Contacts");
lg.append("path").attr("transform", "translate(1151,1163)").attr("d", d3.symbol(d3.symbolDiamond, 22)).attr("fill", "#0000ff");
lg.append("text").attr("x", 1186).attr("y", 1169).text("Z_Dikes");
</script>
</body>
</html>
